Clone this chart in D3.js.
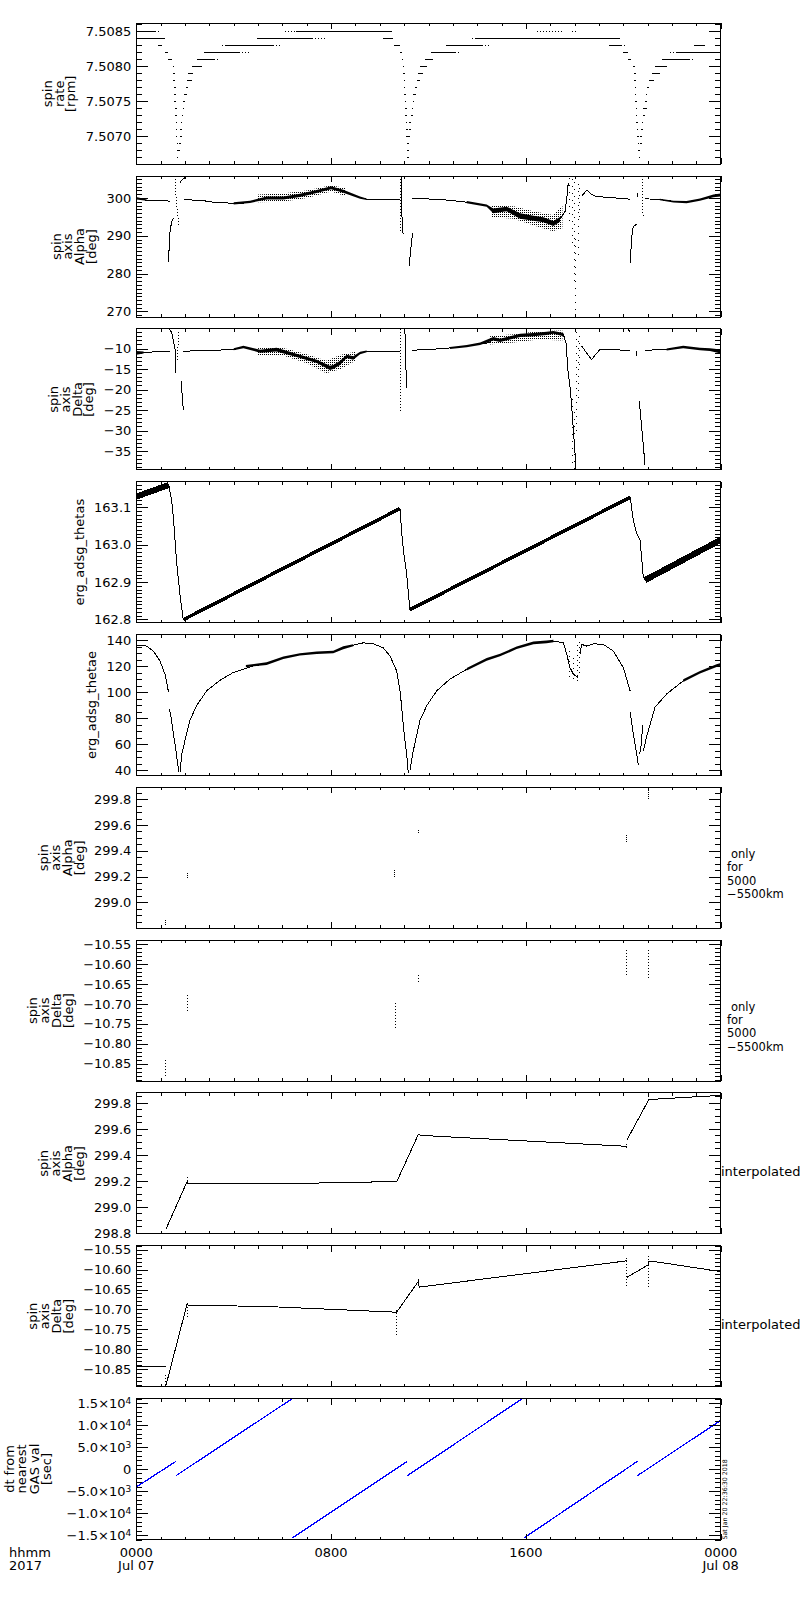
<!DOCTYPE html>
<html>
<head>
<meta charset="utf-8">
<script src="https://cdn.jsdelivr.net/npm/d3@7"></script>
<style>
  body { margin: 0; background: #fff; }
  svg { display: block; }
</style>
</head>
<body>
<svg id="chart"></svg>
<script>
// all times are hours after 2017-07-07 00:00 UT

// ---- panel 1: spin rate [rpm], quantised runs [level, h0, h1] ----
const spinRuns = [
  [7.5085, 0.02, 0.75], [7.5085, 6.55, 10.49],
  [7.5084, 0.02, 1.18], [7.5084, 4.95, 7.2], [7.5084, 10.14, 10.55], [7.5084, 13.9, 19.86],
  [7.5083, 0.9, 1.05], [7.5083, 3.7, 5.6], [7.5083, 10.6, 10.85], [7.5083, 12.7, 14.2], [7.5083, 19.4, 19.9], [7.5083, 22.9, 23.35],
  [7.5082, 1.18, 1.3], [7.5082, 2.8, 4.2], [7.5082, 10.85, 10.92], [7.5082, 12.1, 13.1], [7.5082, 20.0, 20.2], [7.5082, 22.2, 24],
  [7.5081, 1.3, 1.48], [7.5081, 2.48, 3.2], [7.5081, 10.9, 10.94], [7.5081, 11.86, 12.2], [7.5081, 20.2, 20.3], [7.5081, 21.6, 22.7]
];
const spinRunsDotted = [
  [7.5085, 0.75, 0.97], [7.5085, 6.11, 6.55], [7.5085, 16.44, 17.54], [7.5085, 17.88, 18.15],
  [7.5084, 7.2, 7.82], [7.5084, 13.77, 13.9],
  [7.5083, 3.51, 3.7], [7.5083, 5.6, 5.9], [7.5083, 14.2, 14.53], [7.5083, 19.9, 20.14],
  [7.5082, 4.2, 4.67], [7.5082, 13.1, 13.29], [7.5082, 21.92, 22.2],
  [7.5081, 3.2, 3.44], [7.5081, 22.7, 22.87]
];
const dipLevels = [7.5080, 7.5079, 7.5078, 7.5077, 7.5076, 7.5075, 7.5074, 7.5073, 7.5072, 7.5071, 7.5070, 7.5069, 7.5068, 7.5067];
const dip1Down = [1.49, 1.52, 1.52, 1.55, 1.55, 1.56, 1.59, 1.59, 1.62, 1.62, 1.63, 1.66, 1.66, 1.66];
const dip1Up = [[2.27, 2.68], [2.14, 2.34], [2.07, 2.27], [2.03, 2.14], [1.97, 2.07], [1.93, 2.0], [1.9, 1.93],
  [1.86, 1.9], [1.82, 1.88], [1.80, 1.86], [1.80, 1.82], [1.77, 1.80], [1.73, 1.75], [1.66, 1.69]];
const dip2Down = [10.94, 10.97, 10.98, 10.99, 11.01, 11.02, 11.04, 11.05, 11.06, 11.08, 11.09, 11.10, 11.12, 11.13];
const dip2Up = [[11.65, 11.93], [11.58, 11.79], [11.51, 11.65], [11.45, 11.51], [11.38, 11.49], [11.35, 11.40], [11.31, 11.38],
  [11.27, 11.35], [11.21, 11.27], [11.19, 11.27], [11.16, 11.21], [11.13, 11.21], [11.13, 11.16], [11.13, 11.14]];
const dip3Down = [20.41, 20.44, 20.45, 20.47, 20.48, 20.50, 20.51, 20.52, 20.54, 20.55, 20.58, 20.59, 20.60, 20.63];
const dip3Up = [[21.30, 21.78], [21.17, 21.51], [21.07, 21.26], [20.99, 21.07], [20.93, 20.99], [20.89, 20.96], [20.82, 20.96],
  [20.82, 20.89], [20.76, 20.82], [20.71, 20.80], [20.69, 20.76], [20.69, 20.71], [20.63, 20.66], [20.63, 20.64]];

// ---- panel 2: spin axis alpha [deg] ----
const alphaLines = [
  [[0, 299.9], [0.43, 299.4], [1.38, 299.2]],
  [[1.32, 283.2], [1.38, 290.7], [1.45, 293.8], [1.52, 294.7]],
  [[1.80, 304.0], [1.86, 304.7], [2.0, 305.4]],
  [[1.97, 299.5], [2.6, 299.45], [3.16, 298.9], [3.98, 298.6], [4.26, 298.5], [4.67, 299.0], [5.35, 300.0], [6.04, 300.0],
   [6.72, 300.7], [7.41, 301.7], [8.0, 302.7], [8.5, 301.8], [9.19, 300.1], [9.46, 299.7], [10.83, 299.5]],
  [[10.88, 305.8], [10.9, 298], [10.93, 291.0], [10.97, 290.5]],
  [[11.2, 281.9], [11.28, 287], [11.35, 290.8]],
  [[11.31, 299.9], [12.2, 299.7], [12.88, 299.4], [13.57, 298.9], [13.98, 298.5], [14.39, 298.0], [14.66, 296.6], [14.94, 296.7],
   [15.21, 297.2], [15.48, 296.4], [15.76, 295.1], [16.31, 294.6], [16.72, 294.3], [17.13, 293.2], [17.4, 294.4], [17.61, 296.5],
   [17.68, 300], [17.74, 304]],
  [[18.29, 300.5], [18.5, 302.1], [18.7, 300.9], [18.91, 300.4], [20.28, 299.7]],
  [[20.28, 282.8], [20.35, 290], [20.41, 292.4], [20.55, 293.1]],
  [[20.58, 301.2], [20.58, 300.4]],
  [[20.89, 299.8], [21.51, 299.6], [22.06, 299.1], [22.6, 298.9], [23.15, 299.6], [23.7, 300.5], [24, 300.8]]
];
const alphaDotted = [
  [[1.59, 305.8], [1.64, 299.5], [1.70, 295.9], [1.75, 292.4]],
  [[10.83, 305.8], [10.85, 298], [10.87, 290.7]],
  [[20.78, 305.8], [20.80, 300], [20.81, 295.1]]
];
const alphaCore = [
  [[0, 299.6, 300.3], [0.43, 299.3, 299.6]],
  [[4.0, 298.3, 298.9], [4.67, 298.7, 299.3], [5.35, 299.6, 300.4], [6.04, 299.6, 300.4], [6.72, 300.3, 301.1],
   [7.41, 301.3, 302.1], [8.0, 302.3, 303.1], [8.5, 301.4, 302.2], [9.19, 299.8, 300.4], [9.46, 299.5, 299.9]],
  [[13.57, 298.6, 299.2], [14.39, 297.7, 298.3], [14.66, 296.0, 297.2], [15.21, 296.5, 297.7], [15.76, 294.5, 296.0],
   [16.31, 294.0, 295.3], [16.72, 293.6, 294.9], [17.13, 292.6, 293.9], [17.4, 293.7, 295.0]],
  [[21.5, 299.4, 299.8], [22.06, 298.8, 299.3], [22.6, 298.6, 299.2], [23.15, 299.3, 299.9], [23.7, 300.2, 300.9], [24, 300.4, 301.2]]
];
const alphaHaze = [
  [[5.0, 298.9, 300.9], [6.0, 299.0, 301.2], [7.0, 300.0, 302.0], [8.0, 301.7, 303.4], [8.6, 300.5, 302.6]],
  [[14.6, 295.0, 298.0], [15.5, 294.5, 297.8], [16.3, 292.8, 296.5], [17.1, 291.2, 295.5], [17.5, 292.0, 298.0]]
];
const alphaScatter = [[17.8, 294, 305.8], [17.9, 288, 305.8], [18.0, 278, 305.8], [18.05, 268.5, 290], [18.15, 285, 305], [18.22, 295, 304]];

// ---- panel 3: spin axis delta [deg] ----
const deltaLines = [
  [[0, -11.1], [0.43, -10.9], [1.38, -10.65]],
  [[1.32, -5.0], [1.45, -6.0], [1.59, -10.2], [1.63, -16.0]],
  [[1.84, -18.0], [1.88, -21], [1.93, -25.0]],
  [[1.93, -10.65], [3.98, -10.25], [4.4, -9.6], [5.08, -10.65], [5.76, -10.25], [6.72, -11.9], [7.41, -13.1], [7.95, -14.7],
   [8.09, -14.5], [8.37, -13.5], [8.64, -11.9], [8.91, -12.3], [9.19, -11.1], [9.46, -10.65], [10.83, -10.65]],
  [[11.03, -5.2], [11.06, -12], [11.1, -19.6]],
  [[11.31, -10.4], [11.99, -10.25], [12.88, -9.85], [13.57, -9.4], [14.12, -8.8], [14.5, -8.6], [14.66, -7.6], [14.94, -8.0],
   [15.35, -7.4], [15.76, -6.8], [16.31, -6.6], [16.85, -6.3], [17.13, -6.0], [17.54, -6.6], [17.65, -8.6], [17.72, -15.1],
   [17.81, -19.2], [17.88, -24], [17.95, -29.9], [18.02, -35.6], [18.06, -39.5]],
  [[18.29, -9.4], [18.5, -11.1], [18.7, -12.7], [18.91, -11.1], [19.04, -10.25], [20.28, -10.4]],
  [[20.20, -5.3], [20.28, -6.0]],
  [[20.55, -10.6], [20.55, -11.7]],
  [[20.66, -22.9], [20.72, -27], [20.80, -32], [20.89, -38.4]],
  [[20.89, -10.4], [21.78, -10.25], [22.46, -9.6], [23.15, -10.1], [23.56, -10.25], [23.97, -10.65], [24, -10.7]]
];
const deltaDotted = [
  [[1.73, -6.0], [1.72, -8], [1.70, -11], [1.70, -13]],
  [[10.83, -5.3], [10.85, -15], [10.87, -25.8]]
];
const deltaCore = [
  [[0, -11.5, -10.6], [0.3, -11.2, -10.7]],
  [[4.0, -10.4, -9.9], [4.4, -9.9, -9.3], [5.08, -11.0, -10.3], [5.76, -10.7, -9.8], [6.72, -12.3, -11.5], [7.41, -13.5, -12.7],
   [7.95, -15.2, -14.2], [8.09, -15.0, -14.0], [8.37, -14.0, -13.0], [8.64, -12.3, -11.5], [8.91, -12.7, -11.9],
   [9.19, -11.4, -10.8], [9.46, -10.9, -10.5]],
  [[12.88, -10.1, -9.6], [13.57, -9.7, -9.1], [14.12, -9.1, -8.5], [14.66, -8.0, -7.2], [14.94, -8.4, -7.6], [15.35, -7.8, -7.0],
   [15.76, -7.2, -6.4], [16.31, -7.0, -6.2], [16.85, -6.7, -5.9], [17.13, -6.4, -5.7], [17.54, -7.0, -6.2]],
  [[21.78, -10.5, -10.0], [22.46, -9.9, -9.3], [23.15, -10.4, -9.8], [23.56, -10.6, -9.9], [24, -11.2, -10.2]]
];
const deltaHaze = [
  [[5.0, -11.8, -9.6], [6.0, -11.6, -9.8], [7.0, -13.6, -11.4], [7.8, -16.0, -13.0], [8.4, -15.0, -11.5], [9.0, -13.0, -10.8]],
  [[14.5, -9.0, -7.0], [15.5, -8.5, -6.5], [16.5, -7.8, -5.8], [17.5, -8.0, -5.6]]
];
const deltaScatter = [[17.9, -38, -22], [18.0, -39.5, -25], [18.08, -30, -5.5], [18.15, -22, -7], [18.22, -14, -6]];

// ---- panel 4: erg_adsg_thetas ----
const thetasRise = [
  [[0, 163.129], [1.32, 163.160]],
  [[1.93, 162.799], [10.83, 163.097]],
  [[11.24, 162.826], [20.28, 163.127]],
  [[20.89, 162.905], [24, 163.013]]
];
const thetasDrop = [
  [[1.32, 163.164], [1.45, 163.120], [1.52, 163.075], [1.59, 163.012], [1.66, 162.95], [1.79, 162.869], [1.93, 162.797]],
  [[10.83, 163.097], [10.9, 163.03], [10.97, 162.985], [11.10, 162.923], [11.24, 162.824]],
  [[20.28, 163.129], [20.41, 163.066], [20.55, 163.030], [20.69, 163.012], [20.82, 162.914], [20.89, 162.905]]
];

// ---- panel 5: erg_adsg_thetae ----
const thetaeLines = [
  [[0, 136.2], [0.43, 135.5], [0.70, 131.7], [0.97, 124.1], [1.18, 113.9], [1.32, 100.5]],
  [[1.36, 87.3], [1.45, 78.4], [1.52, 68.2], [1.59, 60.6], [1.66, 50.5], [1.75, 38.5]],
  [[1.80, 39.0], [1.86, 51.7], [2.0, 63.1], [2.2, 78.4], [2.48, 89.8], [2.89, 101.2], [3.44, 109.3], [3.98, 115.2], [4.81, 120.3],
   [5.35, 122.0], [6.04, 126.6], [6.72, 129.1], [7.41, 130.4], [8.09, 130.9], [8.5, 134.2], [8.91, 136.2], [9.32, 138.0],
   [9.73, 137.3], [10.14, 134.2], [10.42, 127.9], [10.69, 116.4], [10.83, 101.2], [10.9, 88.5], [10.97, 73.3], [11.03, 63.1],
   [11.10, 53], [11.17, 37.8]],
  [[11.24, 40.3], [11.38, 55.5], [11.65, 78.4], [11.93, 89.8], [12.34, 101.2], [12.88, 110.1], [13.57, 117.7], [14.39, 125.3],
   [14.94, 128.6], [15.62, 134.2], [16.31, 138.0], [16.85, 138.5], [17.13, 139.3], [17.54, 138.0], [17.68, 129.1], [17.81, 119],
   [17.95, 113.9], [18.15, 111.4]],
  [[18.22, 129.1], [18.29, 136.8], [18.5, 135.5], [18.77, 137.3], [19.18, 136.8], [19.59, 131.7], [20.0, 119], [20.28, 101.2]],
  [[20.28, 84.7], [20.41, 68.2], [20.55, 53.0], [20.62, 44.1]],
  [[20.66, 53], [20.71, 55], [20.80, 75]],
  [[20.82, 55], [20.96, 66], [21.30, 88.5], [21.78, 98.7], [22.46, 108.8], [23.15, 115.2], [23.83, 120.3], [24, 121.5]]
];
const thetaeCore = [
  [[4.5, 119.3, 121], [5.35, 121, 123], [6.04, 125.5, 127.5], [6.72, 128.2, 130], [7.41, 129.5, 131.3], [8.09, 130, 132],
   [8.5, 133, 135.3], [8.91, 135.4, 137]],
  [[13.57, 116.7, 118.7], [14.39, 124.3, 126.3], [14.94, 127.6, 129.6], [15.62, 133.2, 135.2], [16.31, 137, 139],
   [16.85, 137.6, 139.8], [17.13, 138.5, 140.3]],
  [[22.46, 108, 110], [23.15, 114.4, 116.4], [23.83, 119.5, 121.5], [24, 120.5, 122.5]]
];
const thetaeScatter = [[17.8, 112, 135], [17.95, 110, 128], [18.1, 109, 138], [18.2, 115, 140]];

// ---- panels 6/7: values only for 5000-5500 km, [h, lo, hi] ----
const alphaOnly = [[1.21, 298.82, 298.86], [2.09, 299.186, 299.225], [10.62, 299.2, 299.25], [11.58, 299.54, 299.567],
  [20.14, 299.47, 299.53], [21.03, 299.80, 299.89]];
const deltaOnly = [[1.21, -10.882, -10.84], [2.09, -10.719, -10.677], [10.65, -10.76, -10.693], [11.58, -10.644, -10.627],
  [20.14, -10.627, -10.564], [21.03, -10.635, -10.56]];

// ---- panels 8/9: interpolated ----
const alphaInterp = [
  [[1.21, 298.825], [2.09, 299.197], [2.12, 299.178], [6.5, 299.18], [10.7, 299.195], [11.58, 299.556], [11.7, 299.55], [20.14, 299.466]],
  [[20.16, 299.518], [21.03, 299.82], [21.06, 299.826], [24, 299.858]]
];
const alphaInterpDots = [[2.09, 299.2, 299.235], [20.14, 299.455, 299.49], [21.03, 299.82, 299.87]];
const deltaInterp = [
  [[0, -10.843], [1.2, -10.843]],
  [[1.18, -10.90], [2.09, -10.685], [2.13, -10.689], [5.5, -10.693], [10.69, -10.707], [11.58, -10.630], [11.62, -10.644], [20.14, -10.578]],
  [[20.16, -10.619], [21.03, -10.588], [21.05, -10.58], [21.3, -10.58], [24, -10.605]]
];
const deltaInterpDots = [[1.2, -10.89, -10.86], [2.09, -10.72, -10.685], [10.7, -10.765, -10.70], [11.58, -10.634, -10.62],
  [20.14, -10.64, -10.568], [21.03, -10.643, -10.562]];

// ---- panel 10: dt from nearest GAS val [sec], segments [h0, v0, h1, v1] ----
const gasDt = [[0, -4085, 1.63, 1740], [1.63, -1513, 6.38, 15887], [6.41, -15660, 11.13, 1740],
  [11.13, -1513, 15.83, 15887], [15.92, -15660, 20.58, 1740], [20.58, -1513, 24, 11045]];

// ---- axes ----
const spinDomain = [7.50660, 7.50861], spinTicks = [7.5070, 7.5075, 7.5080, 7.5085];
const alphaDomain = [268.5, 305.8], alphaTicks = [270, 280, 290, 300];
const deltaDomain = [-39.6, -5.2], deltaTicks = [-35, -30, -25, -20, -15, -10];
const thetasDomain = [162.791, 163.169], thetasTicks = [162.8, 162.9, 163.0, 163.1];
const thetaeDomain = [36.1, 144.4], thetaeTicks = [40, 60, 80, 100, 120, 140];
const alphaOnlyDomain = [298.798, 299.893], alphaOnlyTicks = [299.0, 299.2, 299.4, 299.6, 299.8];
const deltaSmallDomain = [-10.894, -10.540], deltaSmallTicks = [-10.85, -10.80, -10.75, -10.70, -10.65, -10.60, -10.55];
const alphaInterpDomain = [298.792, 299.877], alphaInterpTicks = [298.8, 299.0, 299.2, 299.4, 299.6, 299.8];
const gasDomain = [-16000, 16000], gasTicks = [-15000, -10000, -5000, 0, 5000, 10000, 15000];
const gasTickText = [["−1.5×10", "4"], ["−1.0×10", "4"], ["−5.0×10", "3"], ["0", ""], ["5.0×10", "3"], ["1.0×10", "4"], ["1.5×10", "4"]];
const hourMajor = [0, 8, 16, 24];
const hourLabels = ["0000", "0800", "1600", "0000"];
const dateLabels = ["Jul 07", "", "", "Jul 08"];
const titles = [["spin", "rate", "[rpm]"], ["spin", "axis", "Alpha", "[deg]"], ["spin", "axis", "Delta", "[deg]"],
  ["erg_adsg_thetas"], ["erg_adsg_thetae"], ["spin", "axis", "Alpha", "[deg]"], ["spin", "axis", "Delta", "[deg]"],
  ["spin", "axis", "Alpha", "[deg]"], ["spin", "axis", "Delta", "[deg]"], ["dt from", "nearest", "GAS val", "[sec]"]];
const onlyNote = ["only", "for", "5000", "−5500km"];
const interpNote = "interpolated";
const stamp = "Sat Jan 20 22:36:30 2018";

// ---- layout ----
const X0 = 136.3, X1 = 720.7, TOP0 = 23.3, STEP = 152.8, PH = 141;
const FONT = "'DejaVu Sans', Verdana, sans-serif";

const svg = d3.select('#chart').attr('width', 800).attr('height', 1600);
svg.append('rect').attr('width', 800).attr('height', 1600).attr('fill', '#fff');

// sparse dot fill for the noisy parts
svg.append('defs').append('pattern')
  .attr('id', 'stipple').attr('width', 2).attr('height', 2).attr('patternUnits', 'userSpaceOnUse')
  .append('rect').attr('width', 1).attr('height', 1).attr('fill', '#000');

const x = d3.scaleLinear().domain([0, 24]).range([X0, X1]);

function poly(g, y, pts, w, dash, color) {
  g.append('path').datum(pts)
    .attr('d', d3.line().x(d => x(d[0])).y(d => y(d[1])))
    .attr('fill', 'none')
    .attr('stroke', color || '#000')
    .attr('stroke-width', w || 1)
    .attr('stroke-dasharray', dash || null)
    .attr('shape-rendering', 'crispEdges');
}

function band(g, y, pts, fill) {
  g.append('path').datum(pts)
    .attr('d', d3.area().x(d => x(d[0])).y0(d => y(d[1])).y1(d => y(d[2])))
    .attr('fill', fill || '#000');
}

function vmarks(g, y, arr, dash) {
  arr.forEach(d => {
    g.append('line')
      .attr('x1', x(d[0])).attr('x2', x(d[0]))
      .attr('y1', y(d[1])).attr('y2', y(d[2]))
      .attr('stroke', '#000').attr('stroke-width', 1)
      .attr('stroke-dasharray', dash || null)
      .attr('shape-rendering', 'crispEdges');
  });
}

function run(g, y, lv, h0, h1, dash) {
  const xa = x(h0), xb = Math.max(x(h1), xa + 1.5);
  g.append('line')
    .attr('x1', xa).attr('x2', xb).attr('y1', y(lv)).attr('y2', y(lv))
    .attr('stroke', '#000').attr('stroke-width', 1)
    .attr('stroke-dasharray', dash || null)
    .attr('shape-rendering', 'crispEdges');
}

const panels = [
  { domain: spinDomain, major: spinTicks, step: 0.0001, fmt: d3.format('.4f'),
    draw: (g, y) => {
      spinRuns.forEach(r => run(g, y, r[0], r[1], r[2]));
      spinRunsDotted.forEach(r => run(g, y, r[0], r[1], r[2], '1,2'));
      [[dip1Down, dip1Up], [dip2Down, dip2Up], [dip3Down, dip3Up]].forEach(([down, up]) => {
        dipLevels.forEach((lv, k) => {
          run(g, y, lv, down[k], down[k]);
          run(g, y, lv, up[k][0], up[k][1]);
        });
      });
    } },
  { domain: alphaDomain, major: alphaTicks, step: 1, fmt: d3.format('d'),
    draw: (g, y) => {
      alphaHaze.forEach(b => band(g, y, b, 'url(#stipple)'));
      alphaCore.forEach(b => band(g, y, b));
      alphaLines.forEach(p => poly(g, y, p));
      alphaDotted.forEach(p => poly(g, y, p, 1, '1,2'));
      vmarks(g, y, alphaScatter, '1,6');
    } },
  { domain: deltaDomain, major: deltaTicks, step: 1, fmt: d3.format('d'),
    draw: (g, y) => {
      deltaHaze.forEach(b => band(g, y, b, 'url(#stipple)'));
      deltaCore.forEach(b => band(g, y, b));
      deltaLines.forEach(p => poly(g, y, p));
      deltaDotted.forEach(p => poly(g, y, p, 1, '1,2'));
      vmarks(g, y, deltaScatter, '1,6');
    } },
  { domain: thetasDomain, major: thetasTicks, step: 0.01, fmt: d3.format('.1f'),
    draw: (g, y) => {
      thetasRise.forEach((p, i) => poly(g, y, p, (i === 0 || i === 3) ? 6 : 3.5));
      thetasDrop.forEach(p => poly(g, y, p));
    } },
  { domain: thetaeDomain, major: thetaeTicks, step: 5, fmt: d3.format('d'),
    draw: (g, y) => {
      thetaeCore.forEach(b => band(g, y, b));
      thetaeLines.forEach(p => poly(g, y, p));
      vmarks(g, y, thetaeScatter, '1,4');
    } },
  { domain: alphaOnlyDomain, major: alphaOnlyTicks, step: 0.05, fmt: d3.format('.1f'),
    draw: (g, y) => vmarks(g, y, alphaOnly, '1,1') },
  { domain: deltaSmallDomain, major: deltaSmallTicks, step: 0.01, fmt: d3.format('.2f'),
    draw: (g, y) => vmarks(g, y, deltaOnly, '1,2') },
  { domain: alphaInterpDomain, major: alphaInterpTicks, step: 0.05, fmt: d3.format('.1f'),
    draw: (g, y) => {
      alphaInterp.forEach(p => poly(g, y, p));
      vmarks(g, y, alphaInterpDots, '1,2');
    } },
  { domain: deltaSmallDomain, major: deltaSmallTicks, step: 0.01, fmt: d3.format('.2f'),
    draw: (g, y) => {
      deltaInterp.forEach(p => poly(g, y, p));
      vmarks(g, y, deltaInterpDots, '1,2');
    } },
  { domain: gasDomain, major: gasTicks, step: 1000, fmt: d => d, titleGap: 20, titleStep: 12.5,
    draw: (g, y) => {
      gasDt.forEach(s => poly(g, y, [[s[0], s[1]], [s[2], s[3]]], 1.3, null, '#0000ff'));
    } }
];

function minorTicks(domain, step) {
  const lo = Math.min(domain[0], domain[1]), hi = Math.max(domain[0], domain[1]);
  return d3.range(Math.ceil(lo / step - 1e-6), Math.floor(hi / step + 1e-6) + 1).map(k => k * step);
}

function styleAxis(sel) {
  sel.select('.domain').remove();
  sel.selectAll('line').attr('stroke', '#000').attr('shape-rendering', 'crispEdges');
  sel.selectAll('text').attr('fill', '#000').attr('font-family', FONT).attr('font-size', 13);
  sel.attr('font-family', FONT).attr('font-size', 13);
}

panels.forEach((p, i) => {
  const top = TOP0 + STEP * i;
  const y = d3.scaleLinear().domain(p.domain).range([top + PH, top]);
  const g = svg.append('g');

  const clipId = 'clip' + i;
  svg.append('clipPath').attr('id', clipId)
    .append('rect').attr('x', X0).attr('y', top).attr('width', X1 - X0).attr('height', PH);
  const dg = g.append('g').attr('clip-path', `url(#${clipId})`);
  p.draw(dg, y);

  const minor = minorTicks(p.domain, p.step);

  const left = g.append('g').attr('transform', `translate(${X0},0)`)
    .call(d3.axisLeft(y).tickValues(p.major).tickSize(-12).tickPadding(5).tickFormat(p.fmt))
    .call(styleAxis);
  g.append('g').attr('transform', `translate(${X0},0)`)
    .call(d3.axisLeft(y).tickValues(minor).tickSize(-6).tickFormat(''))
    .call(styleAxis);
  g.append('g').attr('transform', `translate(${X1},0)`)
    .call(d3.axisRight(y).tickValues(p.major).tickSize(-12).tickFormat(''))
    .call(styleAxis);
  g.append('g').attr('transform', `translate(${X1},0)`)
    .call(d3.axisRight(y).tickValues(minor).tickSize(-6).tickFormat(''))
    .call(styleAxis);

  g.append('g').attr('transform', `translate(0,${top + PH})`)
    .call(d3.axisBottom(x).tickValues(hourMajor).tickSize(-6).tickFormat(''))
    .call(styleAxis);
  g.append('g').attr('transform', `translate(0,${top + PH})`)
    .call(d3.axisBottom(x).tickValues(d3.range(0, 25)).tickSize(-3).tickFormat(''))
    .call(styleAxis);
  g.append('g').attr('transform', `translate(0,${top})`)
    .call(d3.axisTop(x).tickValues(hourMajor).tickSize(-6).tickFormat(''))
    .call(styleAxis);
  g.append('g').attr('transform', `translate(0,${top})`)
    .call(d3.axisTop(x).tickValues(d3.range(0, 25)).tickSize(-3).tickFormat(''))
    .call(styleAxis);

  // superscript labels for the dt panel
  if (p.domain === gasDomain) {
    left.selectAll('.tick text').each(function (d) {
      const k = gasTicks.indexOf(d);
      const t = d3.select(this).text(gasTickText[k][0]);
      if (gasTickText[k][1]) {
        t.append('tspan').attr('dy', '-0.45em').attr('font-size', 9).text(gasTickText[k][1]);
      }
    });
  }

  g.append('rect')
    .attr('x', X0).attr('y', top).attr('width', X1 - X0).attr('height', PH)
    .attr('fill', 'none').attr('stroke', '#000').attr('stroke-width', 1)
    .attr('shape-rendering', 'crispEdges');

  // rotated y title, placed left of the widest tick label
  let minX = 0;
  left.selectAll('.tick text').each(function () {
    minX = Math.min(minX, this.getBBox().x);
  });
  const lines = titles[i];
  const gap = p.titleGap || 15, lstep = p.titleStep || 11.8;
  const cLast = X0 + minX - gap;
  lines.forEach((s, k) => {
    const cx = cLast - lstep * (lines.length - 1 - k);
    g.append('text')
      .attr('transform', `translate(${cx},${top + PH / 2}) rotate(-90)`)
      .attr('text-anchor', 'middle').attr('dy', '0.35em')
      .attr('font-family', FONT).attr('font-size', 13).attr('fill', '#000')
      .text(s);
  });

  // right-hand notes
  if (i === 5 || i === 6) {
    onlyNote.forEach((s, k) => {
      g.append('text')
        .attr('x', k === 0 ? 731 : 727).attr('y', top + PH / 2 - 4 + 13.4 * k).attr('dy', '0.35em')
        .attr('font-family', FONT).attr('font-size', 11.5).attr('fill', '#000')
        .text(s);
    });
  }
  if (i === 7 || i === 8) {
    g.append('text')
      .attr('x', 721).attr('y', top + PH / 2 + 8).attr('dy', '0.35em')
      .attr('font-family', FONT).attr('font-size', 13).attr('fill', '#000')
      .text(interpNote);
  }
  if (i === panels.length - 1) {
    g.append('text')
      .attr('transform', `translate(724.5,${top + PH}) rotate(-90)`)
      .attr('dy', '0.35em')
      .attr('font-family', FONT).attr('font-size', 6.3).attr('fill', '#000')
      .text(stamp);
  }
});

// bottom time labels
const yLab = TOP0 + STEP * 9 + PH;
hourMajor.forEach((h, k) => {
  svg.append('text').attr('x', x(h)).attr('y', yLab + 13).attr('dy', '0.35em')
    .attr('text-anchor', 'middle').attr('font-family', FONT).attr('font-size', 13).text(hourLabels[k]);
  if (dateLabels[k]) {
    svg.append('text').attr('x', x(h)).attr('y', yLab + 25.5).attr('dy', '0.35em')
      .attr('text-anchor', 'middle').attr('font-family', FONT).attr('font-size', 13).text(dateLabels[k]);
  }
});
svg.append('text').attr('x', 9).attr('y', yLab + 13).attr('dy', '0.35em')
  .attr('font-family', FONT).attr('font-size', 13).text('hhmm');
svg.append('text').attr('x', 9).attr('y', yLab + 25.5).attr('dy', '0.35em')
  .attr('font-family', FONT).attr('font-size', 13).text('2017');
</script>
</body>
</html>
